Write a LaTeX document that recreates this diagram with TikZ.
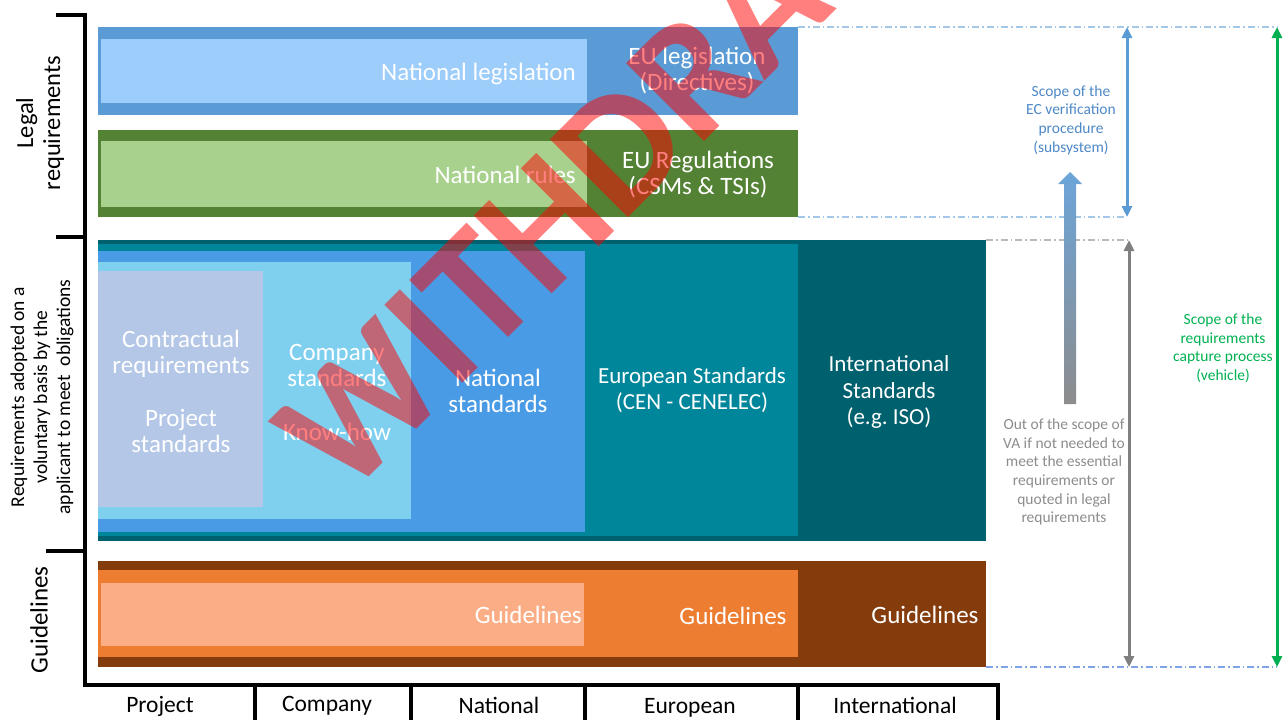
\documentclass[tikz,border=0pt]{standalone}
\usepackage{fontspec}
\setmainfont{Carlito}
\usepackage{tikz}
\usetikzlibrary{arrows.meta}
\definecolor{legblue}{HTML}{5B9BD5}
\definecolor{legblue2}{HTML}{9DCDFB}
\definecolor{reggreen}{HTML}{548235}
\definecolor{reggreen2}{HTML}{A9D18E}
\definecolor{stdint}{HTML}{00616E}
\definecolor{stdeur}{HTML}{00869B}
\definecolor{stdnat}{HTML}{4A9BE5}
\definecolor{stdcom}{HTML}{7FCFEF}
\definecolor{stdpro}{HTML}{B4C7E7}
\definecolor{gdlint}{HTML}{843C0C}
\definecolor{gdleur}{HTML}{ED7D31}
\definecolor{gdlnat}{HTML}{FBAE85}
\definecolor{ectext}{HTML}{4E88C7}
\definecolor{vagrey}{HTML}{7F7F7F}
\definecolor{vatext}{HTML}{8C8C8C}
\definecolor{vehgreen}{HTML}{00B050}

\begin{document}
\begin{tikzpicture}[x=1pt,y=-1pt,
    wtxt/.style={text=white,align=center,inner sep=0pt,font=\fontsize{25}{26}\selectfont},
    wcond/.style={wtxt,font=\fontsize{23}{26.5}\selectfont},
    collbl/.style={inner sep=0pt,anchor=base,font=\fontsize{23.5}{25}\selectfont},
    sidelbl/.style={rotate=90,align=center,inner sep=0pt},
    note/.style={align=center,inner sep=0pt,font=\fontsize{15.5}{18.6}\selectfont},
    axis/.style={line width=4pt,line cap=rect},
    limit/.style={line width=1.2pt,dash pattern=on 7pt off 3pt on 1.5pt off 3pt},
    span/.style={line width=3pt,{Triangle[length=11pt,width=10pt]}-{Triangle[length=11pt,width=10pt]}}]
  \useasboundingbox (0,0) rectangle (1285,720);

  \fill[legblue] (98,27) rectangle (798,115);
  \fill[legblue2] (101,39) rectangle (587,103);
  \fill[reggreen] (98,130) rectangle (798,217);
  \fill[reggreen2] (101,141) rectangle (587,207);
  \fill[stdint] (98,240) rectangle (986,541);
  \fill[stdeur] (98,244) rectangle (798,536);
  \fill[stdnat] (98,251) rectangle (585,532);
  \fill[stdcom] (98,262) rectangle (411,519);
  \fill[stdpro] (98,271) rectangle (263,507);
  \fill[gdlint] (98,561) rectangle (986,667);
  \fill[gdleur] (98,570) rectangle (798,657);
  \fill[gdlnat] (101,583) rectangle (584,646);

  \node[wtxt,anchor=base east] (natleg) at (576,80) {National legislation};
  \node[wtxt] (euleg) at (697,71) {EU legislation\\(Directives)};
  \node[wtxt,anchor=base east] (natrul) at (576,183) {National rules};
  \node[wtxt] (eureg) at (698,175) {EU Regulations\\(CSMs \& TSIs)};
  \node[wtxt] (contr) at (181,354) {Contractual\\requirements};
  \node[wtxt] (prostd) at (181,431) {Project\\standards};
  \node[wtxt] (comstd) at (337,365) {Company\\standards};
  \node[wtxt,anchor=base] (knowhow) at (337,440) {Know-how};
  \node[wtxt] (natstd) at (498,391) {National\\standards};
  \node[wcond] (eurstd) at (692,390) {European Standards\\(CEN - CENELEC)};
  \node[wcond] (intstd) at (889,392) {International\\Standards\\(e.g.\ ISO)};
  \node[wtxt,anchor=base east] (natgdl) at (582,623) {Guidelines};
  \node[wtxt,anchor=base] (eurgdl) at (733,624) {Guidelines};
  \node[wtxt,anchor=base] (intgdl) at (925,623) {Guidelines};

  \draw[axis] (58,15) -- (85,15) -- (85,685) -- (998,685) -- (998,722);
  \draw[axis] (58,237) -- (85,237);
  \draw[axis] (48,551) -- (85,551);
  \foreach \x in {255,411,585,798}
    \draw[axis] (\x,685) -- (\x,722);

  \node[collbl] (cpro) at (160,712) {Project};
  \node[collbl] (ccom) at (327,711) {Company};
  \node[collbl] (cnat) at (499,713) {National};
  \node[collbl] (ceur) at (690,713) {European};
  \node[collbl] (cint) at (895,713) {International};

  \node[sidelbl,font=\fontsize{24.5}{27}\selectfont] (lgl) at (40,123) {Legal\\requirements};
  \node[sidelbl,font=\fontsize{19.5}{23}\selectfont] (vol) at (42,397) {Requirements adopted on a\\voluntary basis by the\\applicant to meet\ \ obligations};
  \node[sidelbl,font=\fontsize{25}{27}\selectfont] (gdl) at (39,620) {Guidelines};

  \coordinate (ectop) at (1127,27);
  \coordinate (ecbot) at (1127,217);
  \coordinate (vatop) at (1129,240);
  \coordinate (vabot) at (1129,667);
  \coordinate (vehtop) at (1277,27);
  \coordinate (vehbot) at (1277,667);
  \draw[limit,color=legblue!55] (798,27) -- (vehtop);
  \draw[limit,color=legblue!55] (798,217) -- (ecbot);
  \draw[limit,color=vagrey!55] (986,240) -- (vatop);
  \draw[limit,color=legblue!80!blue!70] (986,667) -- (vehbot);
  \draw[span,legblue] (ectop) -- (ecbot);
  \draw[span,vagrey] (vatop) -- (vabot);
  \draw[span,vehgreen] (vehtop) -- (vehbot);

  \shade[top color=legblue!90,middle color=gray!25,bottom color=gray!90] (1064,404) -- (1064,184) -- (1058,184) -- (1070,172) -- (1082,184) -- (1076,184) -- (1076,404) -- cycle;

  \node[note,text=ectext] (ecnote) at (1071,120) {Scope of the\\EC verification\\procedure\\(subsystem)};
  \node[note,text=vatext] (vanote) at (1064,472) {Out of the scope of\\VA if not needed to\\meet the essential\\requirements or\\quoted in legal\\requirements};
  \node[note,text=vehgreen] (vehnote) at (1223,348) {Scope of the\\requirements\\capture process\\(vehicle)};

  \begin{scope}
    \clip (0,0) rectangle (1285,720);
    \node[rotate=45,anchor=base west,inner sep=0pt,text=red,text opacity=0.5,font=\fontsize{170}{170}\bfseries\selectfont] (wm) at (345,501) {WITHDRAWN};
  \end{scope}
\end{tikzpicture}
\end{document}
